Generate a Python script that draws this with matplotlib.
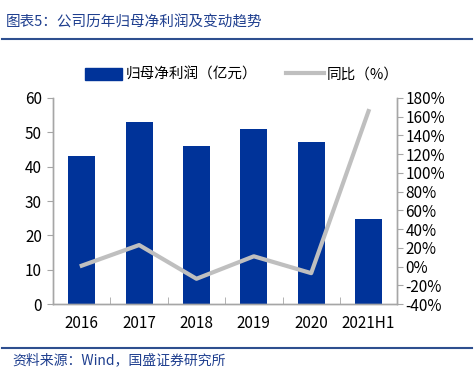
import matplotlib.pyplot as plt
from matplotlib.lines import Line2D
from matplotlib.ticker import FixedLocator

plt.rcParams['font.family'] = ['Noto Sans CJK SC', 'DejaVu Sans']

years = ['2016', '2017', '2018', '2019', '2020', '2021H1']
profit = [43.2, 52.9, 46.1, 51.1, 47.1, 24.9]          # 归母净利润（亿元）
yoy = [1, 23, -13, 11, -7, 166]                         # 同比（%）

bar_color = '#003399'
line_color = '#BFBFBF'
axis_color = '#A6A6A6'

fig = plt.figure(figsize=(4.74, 3.74), dpi=100)
ax = fig.add_axes([0.112, 0.187, 0.726, 0.551])
ax2 = ax.twinx()

x = list(range(len(years)))
ax.bar(x, profit, width=0.47, color=bar_color, zorder=2)
ax2.plot(x, yoy, color=line_color, lw=3, zorder=3)

ax.set_xlim(-0.5, len(years) - 0.5)
ax.set_ylim(0, 60)
ax.set_yticks(range(0, 61, 10))
ax2.set_ylim(-40, 180)
ax2.set_yticks(range(-40, 181, 20))
ax2.set_yticklabels([f'{v}%' for v in range(-40, 181, 20)])

ax.set_xticks(x)
ax.set_xticklabels(years)
ax.xaxis.set_minor_locator(FixedLocator([i - 0.5 for i in range(len(years) + 1)]))
ax.tick_params(axis='x', which='major', length=0, pad=8, labelsize=11)
ax.tick_params(axis='x', which='minor', length=5, color=axis_color, direction='in')
ax.tick_params(axis='y', length=4, color=axis_color, direction='out', labelsize=11, pad=4)
ax2.tick_params(axis='y', length=4, color=axis_color, direction='out', labelsize=11, pad=2)

for a in (ax, ax2):
    a.spines['top'].set_visible(False)
    for s in ('left', 'right', 'bottom'):
        a.spines[s].set_color(axis_color)
        a.spines[s].set_linewidth(1)

# legend
handles = [plt.Rectangle((0, 0), 1, 1, color=bar_color),
           Line2D([0], [0], color=line_color, lw=3)]
fig.legend(handles, ['归母净利润（亿元）', '同比（%）'], loc='center',
           bbox_to_anchor=(0.51, 0.80), ncol=2, frameon=False, fontsize=10.5,
           handlelength=2.6, handleheight=0.9, handletextpad=0.2,
           columnspacing=2.0)

# title / source with rules
title_color = '#1F3F8F'
fig.text(0.013, 0.94, '图表5：公司历年归母净利润及变动趋势', fontsize=10.5,
         color=title_color, style='italic', va='center')
fig.add_artist(Line2D([0.005, 0.995], [0.896, 0.896], color='#2E4F8F', lw=1.5))
fig.add_artist(Line2D([0.005, 0.995], [0.07, 0.07], color='#2E4F8F', lw=1.5))
fig.text(0.025, 0.037, '资料来源：Wind，国盛证券研究所', fontsize=10,
         color=title_color, style='italic', va='center')

fig.savefig('out.png', dpi=100)
